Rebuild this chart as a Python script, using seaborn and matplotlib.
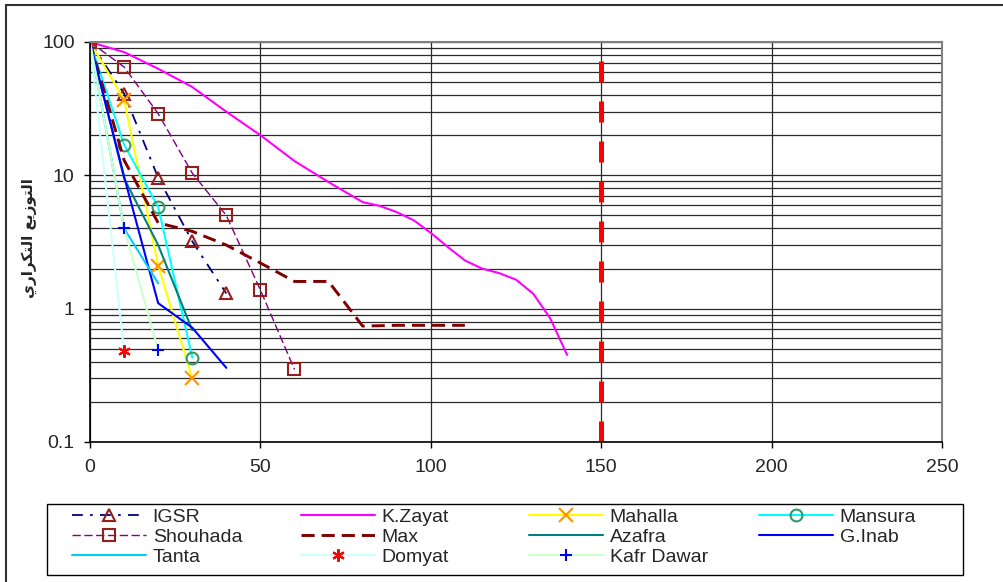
import seaborn as sns
import matplotlib.pyplot as plt
from matplotlib.patches import Rectangle
from matplotlib.ticker import NullFormatter

# data (x = size class, y = frequency %)
igsr_x = [0, 10, 20, 30, 40]
igsr_y = [100, 41, 9.6, 3.2, 1.3]
kzayat_x = [0, 10, 20, 30, 40, 50, 60, 70, 80, 85, 90, 95, 100, 105, 110, 115, 120, 125, 130, 135, 140]
kzayat_y = [100, 84, 63, 46, 30, 20, 12.8, 8.9, 6.3, 5.9, 5.3, 4.6, 3.7, 2.9, 2.3, 2.0, 1.85, 1.65, 1.3, 0.85, 0.45]
mahalla_x = [0, 10, 20, 30]
mahalla_y = [100, 37, 2.1, 0.3]
mansura_x = [0, 10, 20, 30]
mansura_y = [100, 17, 5.8, 0.43]
shouhada_x = [0, 10, 20, 30, 40, 50, 60]
shouhada_y = [100, 65, 29, 10.4, 5, 1.38, 0.35]
max_x = [0, 10, 20, 30, 40, 50, 60, 70, 80, 90, 100, 110]
max_y = [100, 13, 4.4, 3.8, 3.0, 2.2, 1.6, 1.6, 0.74, 0.75, 0.75, 0.75]
azafra_x = [0, 10, 20, 30]
azafra_y = [100, 9.5, 3.0, 0.69]
ginab_x = [0, 10, 20, 30, 40]
ginab_y = [100, 9.8, 1.1, 0.72, 0.36]
tanta_x = [0, 10, 20]
tanta_y = [100, 4.0, 1.55]
domyat_x = [0, 10]
domyat_y = [100, 0.48]
kafr_x = [0, 10, 20]
kafr_y = [100, 4.0, 0.49]
cutoff = 150

x_ticks = [0, 50, 100, 150, 200, 250]
y_ticks = [0.1, 1, 10, 100]
y_tick_labels = ["0.1", "1", "10", "100"]

# "التوزيع التكراري" in presentation forms, visual order
ylabel = "\uFEF1\uFEAD\uFE8D\uFEAE\uFEDC\uFE98\uFEDF\uFE8D \uFECA\uFEF3\uFEAF\uFEEE\uFE98\uFEDF\uFE8D"

sns.set_theme(style="white")
plt.rcParams['font.family'] = ['Liberation Sans', 'DejaVu Sans']

W, H = 1004, 582
fig = plt.figure(figsize=(W / 100, H / 100), dpi=100)
ax = fig.add_axes([90 / W, 1 - 442 / H, (942 - 90) / W, (442 - 42) / H])

series = [
    ("IGSR", igsr_x, igsr_y, dict(color="#000080", lw=1.3, ls=(0, (6, 4, 1.5, 4)),
                                  marker="^", ms=9, mec="#961e1e", mfc="none", mew=1.5)),
    ("K.Zayat", kzayat_x, kzayat_y, dict(color="#FF00FF", lw=1.5)),
    ("Mahalla", mahalla_x, mahalla_y, dict(color="#FFFF00", lw=1.5,
                                           marker="x", ms=10, mec="#FF9900", mew=1.6)),
    ("Mansura", mansura_x, mansura_y, dict(color="#00FFFF", lw=1.5,
                                           marker="o", ms=8.5, mec="#339966", mfc="none", mew=1.5)),
    ("Shouhada", shouhada_x, shouhada_y, dict(color="#800080", lw=1.0, ls=(0, (6, 2.5)),
                                              marker="s", ms=8.5, mec="#961e1e", mfc="none", mew=1.5)),
    ("Max", max_x, max_y, dict(color="#800000", lw=2.1, ls=(0, (4.5, 2.4)))),
    ("Azafra", azafra_x, azafra_y, dict(color="#008080", lw=1.5)),
    ("G.Inab", ginab_x, ginab_y, dict(color="#0000FF", lw=1.5)),
    ("Tanta", tanta_x, tanta_y, dict(color="#00CCFF", lw=1.5)),
    ("Domyat", domyat_x, domyat_y, dict(color="#CCFFFF", lw=1.5,
                                        marker=(6, 2, 0), ms=9, mec="#FF0000", mew=1.5)),
    ("Kafr Dawar", kafr_x, kafr_y, dict(color="#CCFFCC", lw=1.5,
                                        marker="+", ms=9, mec="#0000FF", mew=1.5)),
]

handles = {}
for name, xs, ys, style in series:
    sns.lineplot(x=xs, y=ys, ax=ax, legend=False, **style)
    handles[name] = ax.lines[-1]

ax.axvline(cutoff, color="#FF0000", lw=3.6, ls=(0, (4.2, 3.8)))

ax.set_yscale("log")
ax.set_xlim(0, 250)
ax.set_ylim(0.1, 100)
ax.set_xticks(x_ticks)
ax.set_yticks(y_ticks, labels=y_tick_labels)
ax.yaxis.set_minor_formatter(NullFormatter())

ax.grid(which="major", axis="both", color="#2a2a2a", lw=0.9)
ax.grid(which="minor", axis="y", color="#2a2a2a", lw=0.9)
ax.set_axisbelow(True)
ax.tick_params(which="major", direction="out", length=4, width=1, color="black",
               labelsize=14, left=True, bottom=True)
ax.tick_params(axis="x", pad=8)
ax.tick_params(axis="y", pad=7)
ax.tick_params(which="minor", length=0)
for side in ["left", "bottom"]:
    ax.spines[side].set_color("black")
    ax.spines[side].set_linewidth(1.2)
for side in ["top", "right"]:
    ax.spines[side].set_color("#808080")
    ax.spines[side].set_linewidth(1.5)

fig.text(29 / W, 1 - 238 / H, ylabel, rotation=90, ha="center", va="center",
         fontsize=11, fontweight="bold", family=["DejaVu Sans"])

# legend: four columns laid out like the original
columns = [["IGSR", "Shouhada", "Tanta"],
           ["K.Zayat", "Max", "Domyat"],
           ["Mahalla", "Azafra", "Kafr Dawar"],
           ["Mansura", "G.Inab"]]
col_x = [72, 301, 529, 759]
for names, cx in zip(columns, col_x):
    fig.legend([handles[n] for n in names], names, loc="upper left",
               bbox_to_anchor=(cx / W, 1 - 508 / H), frameon=False,
               borderpad=0, borderaxespad=0, handlelength=3.8, handletextpad=0.35,
               labelspacing=0.12, fontsize=14, numpoints=1)
fig.add_artist(Rectangle((47 / W, 1 - 575 / H), (963 - 47) / W, (575 - 504) / H,
                         transform=fig.transFigure, fill=False, ec="black", lw=1))
# chart area border
fig.add_artist(Rectangle((6 / W, -0.05), 1.1, 1 - 5 / H + 0.05,
                         transform=fig.transFigure, fill=False, ec="#333333", lw=1.5))

fig.savefig("out.png", dpi=100)
